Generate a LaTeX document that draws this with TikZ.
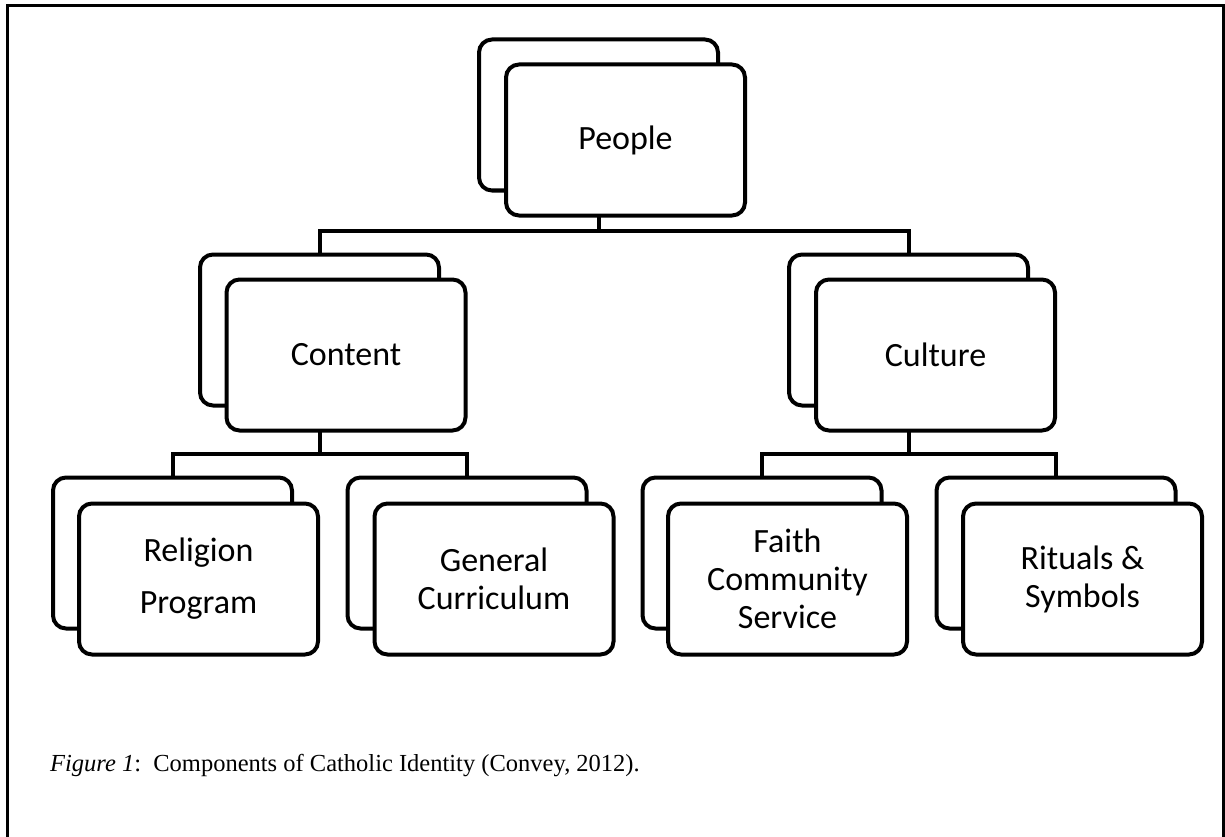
\documentclass[tikz,border=0pt]{standalone}
\usepackage{fontspec}
\newfontfamily\boxfont{Carlito}
\newfontfamily\capfont{Liberation Serif}
\begin{document}
\begin{tikzpicture}[x=1pt,y=-1pt,
  card/.style={draw=black, line width=4pt, rounded corners=13pt, fill=white,
    minimum width=239pt, minimum height=151pt, inner sep=0pt, align=center,
    font=\boxfont\fontsize{34}{38}\selectfont},
  conn/.style={draw=black, line width=4pt},
  frame/.style={draw=black, line width=3pt}]
\useasboundingbox[fill=white] (0,0) rectangle (1225,837);
\draw[frame] (7,838) -- (7,6) -- (1223.5,6) -- (1223.5,838);
% back cards
\node[card] (pb) at (598.5,115) {};
\node[card] (cb) at (319.5,330) {};
\node[card] (ub) at (908.5,330) {};
\node[card] (rb) at (172.5,553) {};
\node[card] (gb) at (467,553) {};
\node[card] (fb) at (762,553) {};
\node[card] (sb) at (1056,553) {};
% junction levels
\coordinate (L1) at (0,231);
\coordinate (L2) at (0,454);
% connectors
\draw[conn] (pb.south) -- (pb.south |- L1);
\draw[conn] (cb.north) |- (pb.south |- L1) -| (ub.north);
\draw[conn] (cb.south) -- (cb.south |- L2);
\draw[conn] (rb.north) |- (cb.south |- L2) -| (gb.north);
\draw[conn] (ub.south) -- (ub.south |- L2);
\draw[conn] (fb.north) |- (ub.south |- L2) -| (sb.north);
% front cards
\node[card] (pf) at (625.5,140) {People};
\node[card] (cf) at (346,355) {Content};
\node[card] (uf) at (935.5,355) {Culture};
\node[card] (rf) at (198.5,579) {Religion\\[14pt]Program};
\node[card] (gf) at (494,579) {General\\Curriculum};
\node[card] (ff) at (787.5,579) {Faith\\Community\\Service};
\node[card] (sf) at (1082.5,579) {Rituals \&\\Symbols};
% caption
\node[anchor=base west, inner sep=0pt, font=\capfont\fontsize{24.5}{30}\selectfont] (cap) at (50,771)
  {\textit{Figure 1}:\ \ Components of Catholic Identity (Convey, 2012).};
\end{tikzpicture}
\end{document}
